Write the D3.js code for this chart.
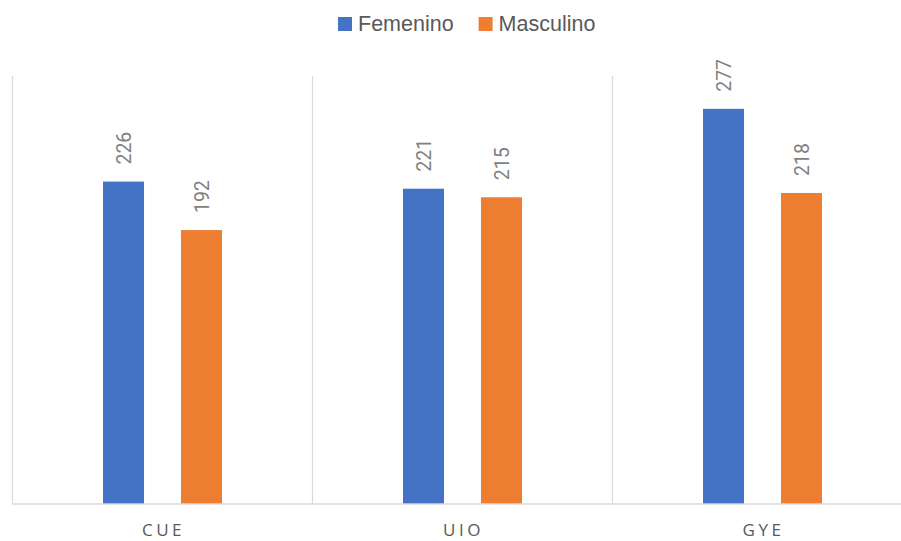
<!DOCTYPE html>
<html>
<head>
<meta charset="utf-8">
<script src="https://cdn.jsdelivr.net/npm/d3@7/dist/d3.min.js"></script>
<style>
  html, body { margin: 0; padding: 0; background: #ffffff; }
  svg { display: block; }
</style>
</head>
<body>
<svg id="chart" width="901" height="541"></svg>
<script>
// Cities and the two series plotted per city
const categories = ["CUE", "UIO", "GYE"];
const seriesNames = ["Femenino", "Masculino"];
const femenino = [226, 221, 277];
const masculino = [192, 215, 218];
const seriesColors = ["#4472C4", "#ED7D31"];
const yMax = 300;

const values = [femenino, masculino];
const rows = categories.map((c, i) => ({
  cat: c,
  vals: seriesNames.map((s, j) => ({ series: s, value: values[j][i], color: seriesColors[j] }))
}));

const svg = d3.select("#chart");
const plot = { left: 12.5, right: 912.5, top: 76, bottom: 504 };

const x0 = d3.scaleBand().domain(categories).range([plot.left, plot.right]).padding(0);
const groupWidth = 119;
const x1 = d3.scaleBand().domain(seriesNames)
  .range([x0.bandwidth() / 2 - groupWidth / 2, x0.bandwidth() / 2 + groupWidth / 2])
  .paddingInner(0.474).paddingOuter(0);
const y = d3.scaleLinear().domain([0, yMax]).range([plot.bottom, plot.top]);

// Vertical separators between categories
const edges = categories.map(c => x0(c)).concat([x0(categories[categories.length - 1]) + x0.bandwidth()]);
svg.append("g").selectAll("line").data(edges).join("line")
  .attr("x1", d => d).attr("x2", d => d)
  .attr("y1", plot.top).attr("y2", plot.bottom)
  .attr("stroke", "#d9d9d9").attr("stroke-width", 1.2);

// Bars
const groups = svg.append("g").selectAll("g").data(rows).join("g")
  .attr("transform", d => `translate(${x0(d.cat)},0)`);

groups.selectAll("rect").data(d => d.vals).join("rect")
  .attr("x", d => x1(d.series))
  .attr("width", x1.bandwidth())
  .attr("y", d => y(d.value))
  .attr("height", d => y(0) - y(d.value))
  .attr("fill", d => d.color);

// Value labels, rotated above each bar
groups.selectAll("text").data(d => d.vals).join("text")
  .attr("transform", d => `translate(${x1(d.series) + x1.bandwidth() / 2 + 7.5},${y(d.value) - 17}) rotate(-90)`)
  .attr("text-anchor", "start")
  .attr("font-family", "Roboto, 'Liberation Sans', sans-serif")
  .attr("font-size", 19.5)
  .attr("fill", "#7f7f7f")
  .text(d => d.value);

// Baseline axis
svg.append("line")
  .attr("x1", plot.left).attr("x2", plot.right)
  .attr("y1", plot.bottom).attr("y2", plot.bottom)
  .attr("stroke", "#d9d9d9").attr("stroke-width", 1.5);

// Category labels
const xAxis = svg.append("g")
  .attr("transform", `translate(0,${plot.bottom})`)
  .call(d3.axisBottom(x0).tickSize(0).tickPadding(0));
xAxis.select(".domain").remove();
xAxis.selectAll("text")
  .attr("dy", null)
  .attr("y", 32)
  .attr("font-family", "'Open Sans', 'Liberation Sans', sans-serif")
  .attr("font-size", 17)
  .attr("letter-spacing", "3.5px")
  .attr("dx", "1px")
  .attr("fill", "#595959");

// Legend
const legend = svg.append("g");
let lx = 338;
seriesNames.forEach((name, i) => {
  const item = legend.append("g").attr("transform", `translate(${lx},0)`);
  item.append("rect")
    .attr("x", 0).attr("y", 17).attr("width", 14).attr("height", 14)
    .attr("fill", seriesColors[i]);
  const t = item.append("text")
    .attr("x", 20).attr("y", 31)
    .attr("font-family", "'Liberation Sans', Arial, sans-serif")
    .attr("font-size", 21.5)
    .attr("fill", "#595959")
    .text(name);
  lx += 20 + t.node().getComputedTextLength() + 25;
});
</script>
</body>
</html>
